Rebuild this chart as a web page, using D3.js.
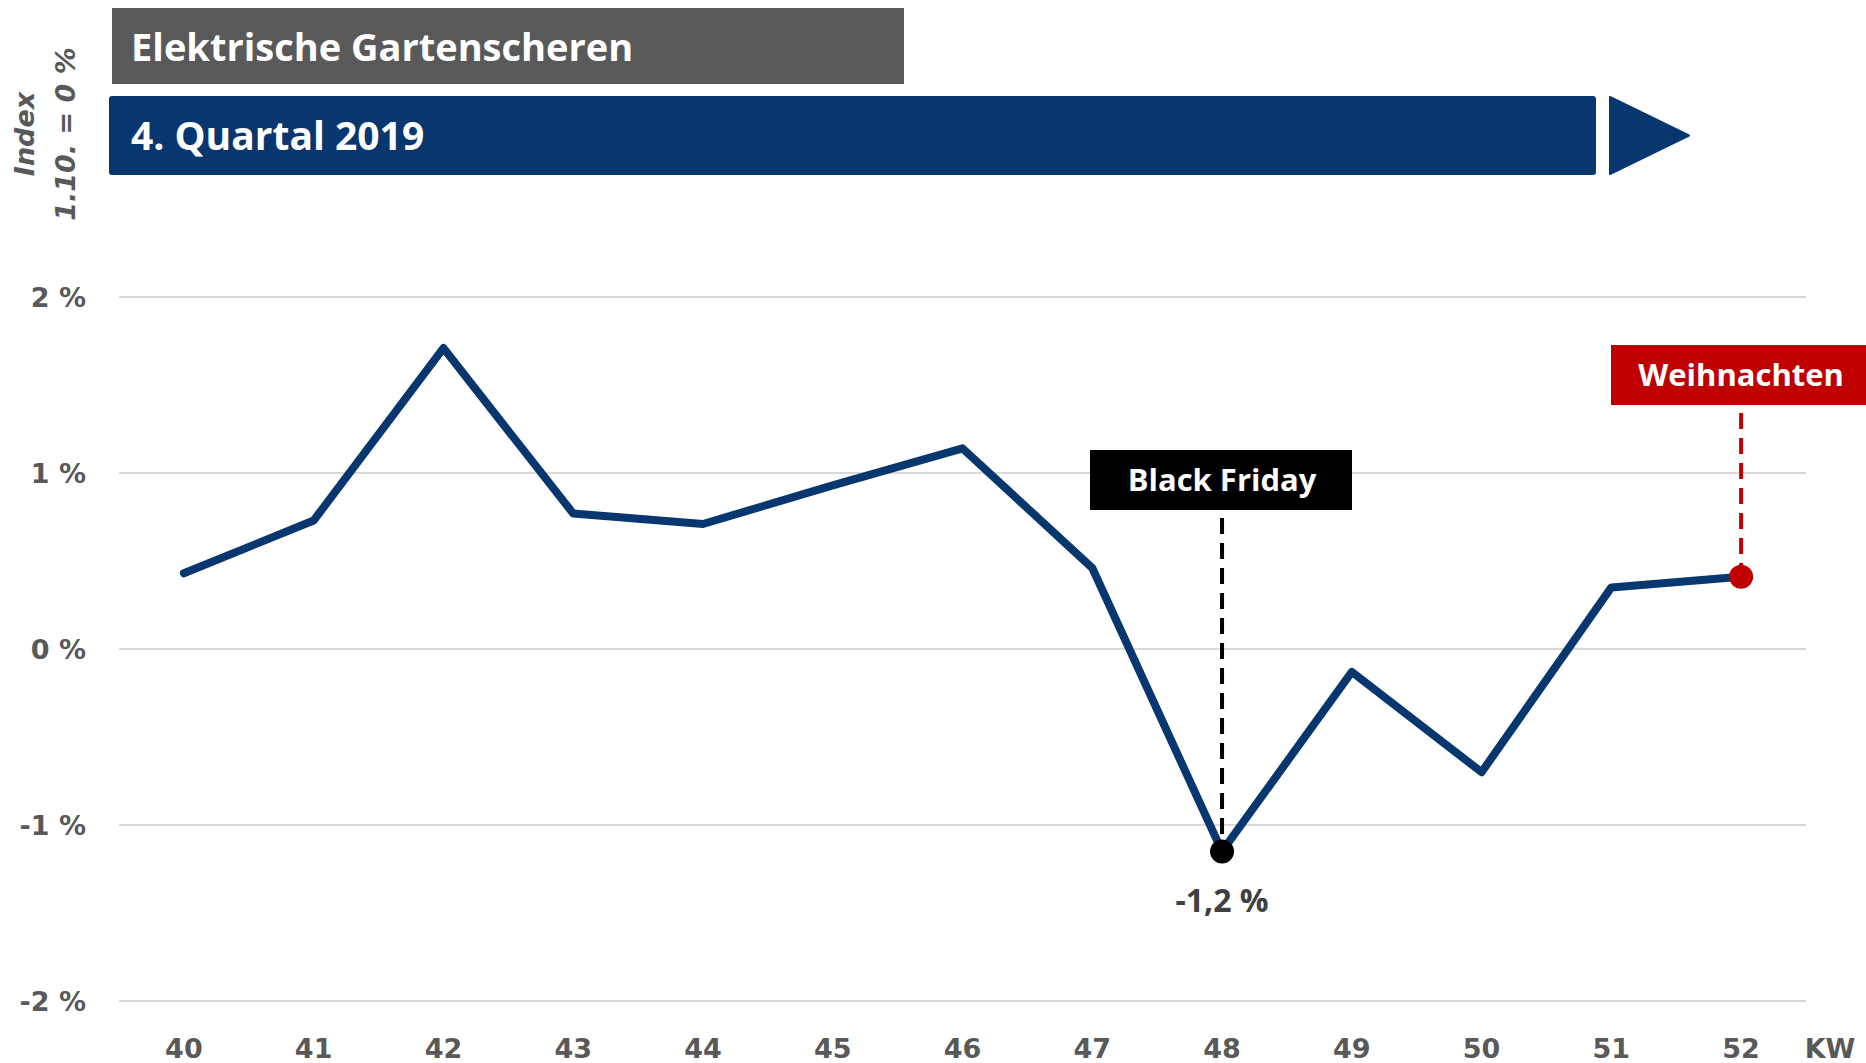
<!DOCTYPE html>
<html>
<head>
<meta charset="utf-8">
<script src="https://cdn.jsdelivr.net/npm/d3@7"></script>
<style>
  body { margin: 0; background: #fff; }
  svg { display: block; }
</style>
</head>
<body>
<div id="chart"></div>
<script>
// Kalenderwochen und Index-Werte (in %)
const weeks = ["40", "41", "42", "43", "44", "45", "46", "47", "48", "49", "50", "51", "52"]
const values = [0.43, 0.73, 1.71, 0.77, 0.71, 0.93, 1.14, 0.46, -1.15, -0.13, -0.70, 0.35, 0.41]
const yTicks = [-2, -1, 0, 1, 2]
const title = "Elektrische Gartenscheren"
const subtitle = "4. Quartal 2019"
const events = [
  { week: "48", label: "Black Friday", color: "#000000", valueLabel: "-1,2 %" },
  { week: "52", label: "Weihnachten", color: "#c00000", valueLabel: null }
]

const width = 1866
const height = 1063
const blue = "#08376f"
const gray = "#595959"
const condensed = "'Open Sans', 'Noto Sans', sans-serif"
const wide = "'DejaVu Sans', Verdana, sans-serif"

const svg = d3.select("#chart")
  .append("svg")
  .attr("width", width)
  .attr("height", height)

const x = d3.scalePoint()
  .domain(weeks)
  .range([119, 1806])
  .padding(0.5)

const y = d3.scaleLinear()
  .domain([-2, 2])
  .range([1001, 297])

// Gitterlinien
svg.append("g")
  .selectAll("line")
  .data(yTicks)
  .enter()
  .append("line")
  .attr("x1", 119)
  .attr("x2", 1806)
  .attr("y1", d => y(d))
  .attr("y2", d => y(d))
  .style("stroke", "#d9d9d9")
  .style("stroke-width", 2)

// Y-Achse
svg.append("g")
  .selectAll("text")
  .data(yTicks)
  .enter()
  .append("text")
  .attr("x", 86)
  .attr("y", d => y(d))
  .attr("dy", "0.36em")
  .attr("text-anchor", "end")
  .style("font-family", wide)
  .style("font-weight", "bold")
  .style("font-size", "27px")
  .style("fill", gray)
  .text(d => `${d} %`)

// X-Achse
svg.append("g")
  .selectAll("text")
  .data(weeks)
  .enter()
  .append("text")
  .attr("x", d => x(d))
  .attr("y", 1058)
  .attr("text-anchor", "middle")
  .style("font-family", wide)
  .style("font-weight", "bold")
  .style("font-size", "27px")
  .style("fill", gray)
  .text(d => d)

svg.append("text")
  .attr("x", 1830)
  .attr("y", 1058)
  .attr("text-anchor", "middle")
  .style("font-family", wide)
  .style("font-weight", "bold")
  .style("font-size", "27px")
  .style("fill", gray)
  .text("KW")

// Achsentitel
const yTitle = svg.append("text")
  .attr("transform", "translate(0,134) rotate(-90)")
  .attr("text-anchor", "middle")
  .style("font-family", wide)
  .style("font-weight", "bold")
  .style("font-style", "italic")
  .style("font-size", "27px")
  .style("fill", gray)
yTitle.append("tspan").attr("x", 0).attr("y", 34).text("Index")
yTitle.append("tspan").attr("x", 0).attr("y", 75).text("1.10. = 0 %")

// Titelbalken
svg.append("rect")
  .attr("x", 112).attr("y", 8)
  .attr("width", 792).attr("height", 76)
  .style("fill", gray)

svg.append("text")
  .attr("x", 131).attr("y", 61)
  .style("font-family", condensed)
  .style("font-weight", "bold")
  .style("font-size", "38px")
  .style("fill", "#fff")
  .text(title)

svg.append("rect")
  .attr("x", 109).attr("y", 96)
  .attr("width", 1487).attr("height", 79)
  .attr("rx", 3)
  .style("fill", blue)

svg.append("path")
  .attr("d", "M1610,97 L1689,135.5 L1610,174 Z")
  .style("fill", blue)
  .style("stroke", blue)
  .style("stroke-width", 2)
  .style("stroke-linejoin", "round")

svg.append("text")
  .attr("x", 131).attr("y", 150)
  .style("font-family", condensed)
  .style("font-weight", "bold")
  .style("font-size", "39px")
  .style("fill", "#fff")
  .text(subtitle)

// Linie
const line = d3.line()
  .x((d, i) => x(weeks[i]))
  .y(d => y(d))

// Ereignisse: gestrichelte Linien zuerst
const boxes = [
  { x0: 1090, x1: 1352, y0: 450, y1: 510 },
  { x0: 1611, x1: 1866, y0: 345, y1: 405 }
]

events.forEach((ev, k) => {
  const i = weeks.indexOf(ev.week)
  const b = boxes[k]
  svg.append("line")
    .attr("x1", x(ev.week)).attr("x2", x(ev.week))
    .attr("y1", b.y1 + 8)
    .attr("y2", y(values[i]))
    .style("stroke", ev.color)
    .style("stroke-width", 4)
    .style("stroke-dasharray", "16,9")
})

svg.append("path")
  .datum(values)
  .attr("d", line)
  .style("fill", "none")
  .style("stroke", blue)
  .style("stroke-width", 8)
  .style("stroke-linejoin", "round")
  .style("stroke-linecap", "round")

events.forEach((ev, k) => {
  const i = weeks.indexOf(ev.week)
  const b = boxes[k]
  svg.append("circle")
    .attr("cx", x(ev.week))
    .attr("cy", y(values[i]))
    .attr("r", 12)
    .style("fill", ev.color)

  svg.append("rect")
    .attr("x", b.x0).attr("y", b.y0)
    .attr("width", b.x1 - b.x0).attr("height", b.y1 - b.y0)
    .style("fill", ev.color)

  svg.append("text")
    .attr("x", x(ev.week))
    .attr("y", (b.y0 + b.y1) / 2)
    .attr("dy", "0.36em")
    .attr("text-anchor", "middle")
    .style("font-family", condensed)
    .style("font-weight", "bold")
    .style("font-size", "31px")
    .style("fill", "#fff")
    .text(ev.label)

  if (ev.valueLabel) {
    svg.append("text")
      .attr("x", x(ev.week))
      .attr("y", 912)
      .attr("text-anchor", "middle")
      .style("font-family", condensed)
      .style("font-weight", "bold")
      .style("font-size", "32px")
      .style("fill", "#404040")
      .text(ev.valueLabel)
  }
})
</script>
</body>
</html>
